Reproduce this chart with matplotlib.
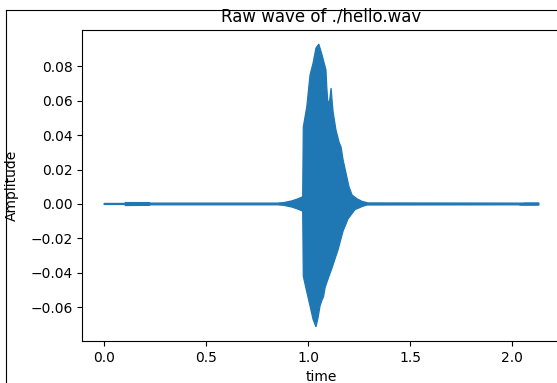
"""
Raw waveform of ./hello.wav, drawn as its amplitude envelope.
"""

import matplotlib
matplotlib.use('Agg')
import matplotlib.pyplot as plt
from matplotlib.lines import Line2D

# ---- Envelope (time in s, amplitude) ---------------------------------
T_UPPER = [0.000, 0.100, 0.105, 0.220, 0.230, 0.850, 0.880, 0.920, 0.950,
           0.973, 0.976, 0.993, 1.009, 1.024, 1.038, 1.052, 1.068, 1.078,
           1.087, 1.091, 1.096, 1.105, 1.112, 1.117, 1.122, 1.136, 1.151,
           1.161, 1.171, 1.185, 1.200, 1.215, 1.239, 1.264, 1.293, 2.050,
           2.060, 2.130]
A_UPPER = [0.0003, 0.0003, 0.0008, 0.0008, 0.0005, 0.0005, 0.0008, 0.0018,
           0.0030, 0.0042, 0.0448, 0.0564, 0.0750, 0.0820, 0.0907, 0.0930,
           0.0866, 0.0820, 0.0780, 0.0680, 0.0593, 0.0600, 0.0674, 0.0600,
           0.0535, 0.0430, 0.0360, 0.0331, 0.0256, 0.0180, 0.0099, 0.0052,
           0.0030, 0.0015, 0.0006, 0.0005, 0.0006, 0.0006]

T_LOWER = [0.000, 0.100, 0.105, 0.220, 0.230, 0.850, 0.880, 0.920, 0.950,
           0.973, 0.976, 0.989, 1.009, 1.024, 1.038, 1.048, 1.058, 1.068,
           1.075, 1.083, 1.099, 1.115, 1.146, 1.171, 1.195, 1.229, 1.264,
           1.288, 2.030, 2.040, 2.130]
A_LOWER = [-0.0003, -0.0003, -0.0009, -0.0008, -0.0005, -0.0005, -0.0008,
           -0.0018, -0.0030, -0.0042, -0.0420, -0.0490, -0.0593, -0.0672,
           -0.0715, -0.0663, -0.0593, -0.0558, -0.0540, -0.0485, -0.0430,
           -0.0378, -0.0267, -0.0157, -0.0087, -0.0033, -0.0015, -0.0006,
           -0.0005, -0.0007, -0.0007]

FILENAME = './hello.wav'
WAVE_COLOR = '#1f77b4'


def main():
    fig = plt.figure(figsize=(5.57, 3.83), dpi=100)
    # axes placed so the right spine falls just outside the picture
    ax = fig.add_axes([0.1478, 0.1097, 0.8587, 0.8120])

    # envelope polygon: upper edge forward, lower edge back
    xs = T_UPPER + T_LOWER[::-1]
    ys = A_UPPER + A_LOWER[::-1]
    ax.fill(xs, ys, facecolor=WAVE_COLOR, edgecolor=WAVE_COLOR,
            linewidth=0.9)

    ax.set_xticks([0.0, 0.5, 1.0, 1.5, 2.0])
    ax.set_yticks([-0.06, -0.04, -0.02, 0.0, 0.02, 0.04, 0.06, 0.08])
    ax.set_title(f'Raw wave of {FILENAME}', fontsize=12)
    ax.set_xlabel('time')
    ax.set_ylabel('Amplitude')
    ax.yaxis.set_label_coords(-0.132, 0.5)

    # output-cell border on the left and top
    fig.add_artist(Line2D([0.0099, 0.0099], [0.0, 0.9726],
                          transform=fig.transFigure, color='black', lw=0.8))
    fig.add_artist(Line2D([0.0099, 1.0], [0.9726, 0.9726],
                          transform=fig.transFigure, color='black', lw=0.8))

    fig.savefig('out.png', dpi=100)


if __name__ == '__main__':
    main()
